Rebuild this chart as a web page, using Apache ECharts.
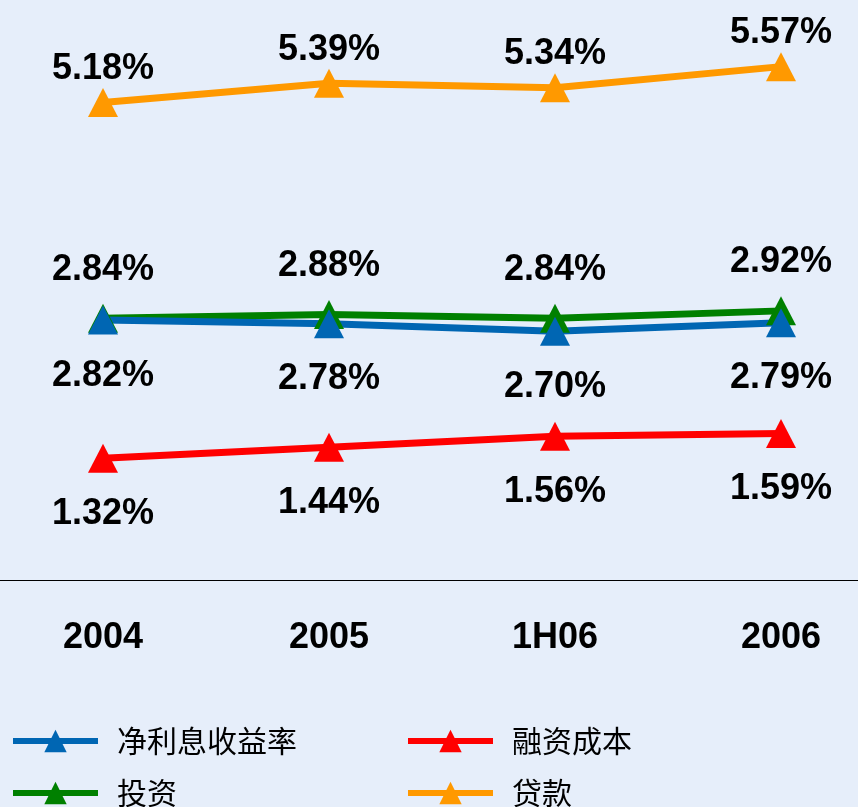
<!DOCTYPE html>
<html>
<head>
<meta charset="utf-8">
<script src="https://cdn.jsdelivr.net/npm/echarts@6/dist/echarts.min.js"></script>
<style>
  html, body { margin: 0; padding: 0; background: #E6EEFA; }
  #chart { width: 858px; height: 807px; }
</style>
</head>
<body>
<div id="chart"></div>
<script>
// 数据
var categories = ["2004", "2005", "1H06", "2006"];
var nimValues = [2.82, 2.78, 2.70, 2.79];      // 净利息收益率
var fundingValues = [1.32, 1.44, 1.56, 1.59];  // 融资成本
var investValues = [2.84, 2.88, 2.84, 2.92];   // 投资
var loanValues = [5.18, 5.39, 5.34, 5.57];     // 贷款

var labelFont = {
  color: "#000",
  fontSize: 36,
  fontWeight: "bold",
  fontFamily: "Liberation Sans, Arial, sans-serif",
};

function pct(p) {
  return p.value.toFixed(2) + "%";
}

function makeSeries(name, data, color, pos, dist) {
  return {
    name: name,
    type: "line",
    data: data,
    symbol: "triangle",
    symbolSize: [30, 29],
    lineStyle: { color: color, width: 7 },
    itemStyle: { color: color },
    label: Object.assign({ show: true, position: pos, distance: dist, formatter: pct }, labelFont),
    animation: false,
  };
}

var legendText = {
  color: "#000",
  fontSize: 30,
  lineHeight: 30,
  padding: [0, 0, 0, 14],
  fontFamily: "Noto Sans CJK SC",
};

function makeLegend(left, names) {
  return {
    orient: "vertical",
    left: left,
    top: 726,
    height: 120,
    padding: 0,
    itemWidth: 85,
    itemHeight: 28,
    itemGap: 22,
    lineStyle: { width: 6 },
    textStyle: legendText,
    data: names,
  };
}

var chart = echarts.init(document.getElementById("chart"));
var option = {
  backgroundColor: "#E6EEFA",
  grid: [
    { left: 103, right: 77, top: 27, bottom: 227 },
    // full-width grid, only used for the axis line
    { left: 0, right: 0, top: 27, bottom: 227 },
  ],
  legend: [
    makeLegend(10, ["净利息收益率", "投资"]),
    makeLegend(405, ["融资成本", "贷款"]),
  ],
  xAxis: [
    {
      type: "category",
      gridIndex: 0,
      data: categories,
      boundaryGap: false,
      axisLine: { show: false },
      axisTick: { show: false },
      axisLabel: Object.assign({ margin: 40 }, labelFont),
    },
    {
      type: "category",
      gridIndex: 1,
      data: categories,
      axisLine: { lineStyle: { color: "#000", width: 1 } },
      axisTick: { show: false },
      axisLabel: { show: false },
    },
  ],
  yAxis: [
    { type: "value", gridIndex: 0, min: 0, max: 6, show: false },
    { type: "value", gridIndex: 1, min: 0, max: 6, show: false },
  ],
  series: [
    makeSeries("投资", investValues, "#008000", "top", 16),
    makeSeries("净利息收益率", nimValues, "#0066B3", "bottom", 23),
    makeSeries("融资成本", fundingValues, "#FF0000", "bottom", 23),
    makeSeries("贷款", loanValues, "#FF9900", "top", 1),
  ],
};
chart.setOption(option);
</script>
</body>
</html>
